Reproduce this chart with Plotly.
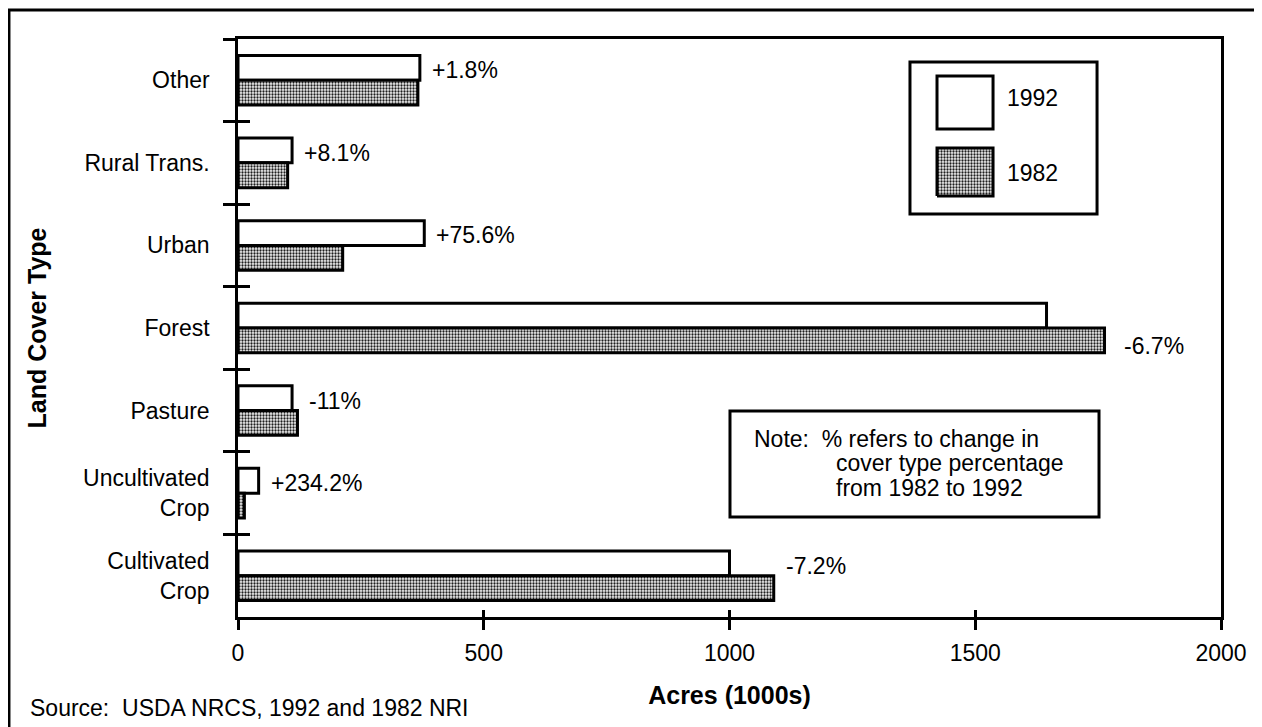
import plotly.graph_objects as go

categories = ["Other", "Rural Trans.", "Urban", "Forest", "Pasture",
              "Uncultivated<br>Crop", "Cultivated<br>Crop"]
acres_1992 = [370, 110, 379, 1645, 110, 42, 1000]
acres_1982 = [366, 101, 213, 1763, 121, 13, 1090]
pct_change = ["+1.8%", "+8.1%", "+75.6%", "-6.7%", "-11%", "+234.2%", "-7.2%"]
x_ticks = [0, 500, 1000, 1500, 2000]

FONT = "Liberation Sans, Arial, sans-serif"
n = len(categories)
bounds = [i - 0.5 for i in range(n + 1)]

DITHER = dict(shape=".", fgcolor="#1e1e1e", bgcolor="#f2f2f2",
              size=3, solidity=0.45)

fig = go.Figure()
fig.add_trace(go.Bar(
    y=categories, x=acres_1992, orientation="h", name="1992",
    marker=dict(color="white", line=dict(color="black", width=3)),
))
fig.add_trace(go.Bar(
    y=categories, x=acres_1982, orientation="h", name="1982",
    marker=dict(color="#f2f2f2", line=dict(color="black", width=3),
                pattern=DITHER),
))
# helper trace for the inner halves of the crossing ticks
fig.add_trace(go.Scatter(x=[None], y=[None], xaxis="x2", yaxis="y2",
                         showlegend=False, hoverinfo="skip"))

# legend swatch for 1982 (textured) drawn on a hidden full-figure axis pair
lx0, lx1, ly0, ly1 = 0.7111, 0.7681, 0.7284, 0.8114
fig.add_trace(go.Scatter(
    x=[lx0, lx1, lx1, lx0, lx0], y=[ly0, ly0, ly1, ly1, ly0],
    xaxis="x3", yaxis="y3", mode="lines", fill="toself",
    fillcolor="#f2f2f2", fillpattern=DITHER,
    line=dict(color="black", width=3), showlegend=False, hoverinfo="skip",
))

annotations = []
LOW_LABEL = {"Forest"}
for cat, a92, a82, pct in zip(categories, acres_1992, acres_1982, pct_change):
    low = cat in LOW_LABEL
    annotations.append(dict(
        x=max(a92, a82), y=cat, xref="x", yref="y", text=pct,
        showarrow=False, xanchor="left", yanchor="middle",
        xshift=17 if low else 10, yshift=-18 if low else 10,
        font=dict(family=FONT, size=23, color="black"),
    ))

# source
annotations.append(dict(
    x=-0.2136, y=-0.157, xref="paper", yref="paper",
    text="Source:  USDA NRCS, 1992 and 1982 NRI", showarrow=False,
    xanchor="left", yanchor="middle",
    font=dict(family=FONT, size=23, color="black"),
))
# note
note_font = dict(family=FONT, size=23, color="black")
annotations += [
    dict(x=0.5229, y=0.308, xref="paper", yref="paper",
         text="Note:  % refers to change in", showarrow=False,
         xanchor="left", yanchor="middle", font=note_font),
    dict(x=0.6063, y=0.2664, xref="paper", yref="paper",
         text="cover type percentage", showarrow=False,
         xanchor="left", yanchor="middle", font=note_font),
    dict(x=0.6063, y=0.2232, xref="paper", yref="paper",
         text="from 1982 to 1992", showarrow=False,
         xanchor="left", yanchor="middle", font=note_font),
]
# legend labels
annotations += [
    dict(x=0.7803, y=0.898, xref="paper", yref="paper", text="1992",
         showarrow=False, xanchor="left", yanchor="middle", font=note_font),
    dict(x=0.7803, y=0.768, xref="paper", yref="paper", text="1982",
         showarrow=False, xanchor="left", yanchor="middle", font=note_font),
]

shapes = [
    # outer frame
    dict(type="rect", xref="paper", yref="paper", x0=-0.233, x1=1.0397,
         y0=-0.23, y1=1.050, line=dict(color="black", width=3), layer="below"),
    # legend box
    dict(type="rect", xref="paper", yref="paper", x0=0.6836, x1=0.8739,
         y0=0.6972, y1=0.9602, line=dict(color="black", width=3),
         fillcolor="white", layer="below"),
    dict(type="rect", xref="paper", yref="paper", x0=0.7111, x1=0.7681,
         y0=0.8443, y1=0.936, line=dict(color="black", width=3),
         fillcolor="white"),
    # note box
    dict(type="rect", xref="paper", yref="paper", x0=0.5005, x1=0.8759,
         y0=0.173, y1=0.3564, line=dict(color="black", width=3),
         fillcolor="white"),
]

fig.update_layout(
    template="none",
    width=1262, height=727,
    margin=dict(l=230, r=49, t=31, b=118, pad=0),
    paper_bgcolor="white", plot_bgcolor="white",
    barmode="group", bargap=0.4, bargroupgap=0,
    showlegend=False,
    font=dict(family=FONT, size=23, color="black"),
    xaxis=dict(
        range=[0, 2000], tickvals=x_ticks, ticks="outside", ticklen=10,
        tickwidth=2.5, tickcolor="black", showline=True, linewidth=2.5,
        linecolor="black", mirror=True, showgrid=False, zeroline=False,
        tickfont=dict(family=FONT, size=23), ticklabelstandoff=4,
        title=dict(text="<b>Acres (1000s)</b>", standoff=22,
                   font=dict(family=FONT, size=25)),
    ),
    yaxis=dict(
        type="category", range=[n - 0.5, -0.5], tickson="boundaries",
        ticks="outside", ticklen=12, tickwidth=2.5, tickcolor="black",
        showline=True, linewidth=2.5, linecolor="black", mirror=True,
        showgrid=False, zeroline=False, ticklabelstandoff=21,
        tickfont=dict(family=FONT, size=23),
        title=dict(text="<b>Land Cover Type</b>", standoff=30,
                   font=dict(family=FONT, size=25)),
    ),
    xaxis2=dict(
        overlaying="x", anchor="y2", side="bottom", range=[0, 2000],
        tickvals=x_ticks, ticks="inside", ticklen=7, tickwidth=2.5,
        tickcolor="black", showticklabels=False, showline=False,
        showgrid=False, zeroline=False,
    ),
    yaxis2=dict(
        overlaying="y", anchor="x2", side="left", range=[n - 0.5, -0.5],
        tickvals=bounds, ticks="inside", ticklen=12, tickwidth=2.5,
        tickcolor="black", showticklabels=False, showline=False,
        showgrid=False, zeroline=False,
    ),
    xaxis3=dict(overlaying="x", anchor="y3", range=[0, 1], visible=False,
                fixedrange=True),
    yaxis3=dict(overlaying="y", anchor="x3", range=[0, 1], visible=False,
                fixedrange=True),
    annotations=annotations,
    shapes=shapes,
)

fig.write_html("out.html")
